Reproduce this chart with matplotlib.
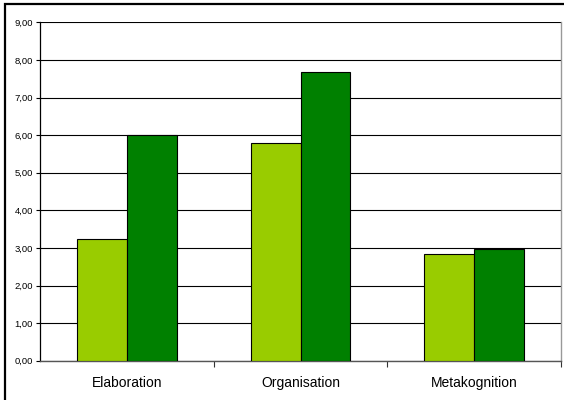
import numpy as np
import matplotlib.pyplot as plt
from matplotlib.patches import Rectangle

# --- data ---
categories = ["Elaboration", "Organisation", "Metakognition"]
series_a = [3.25, 5.80, 2.85]   # light green
series_b = [6.00, 7.68, 2.96]   # dark green
y_ticks = [0, 1, 2, 3, 4, 5, 6, 7, 8, 9]

plt.rcParams['font.family'] = ['Liberation Sans', 'DejaVu Sans']

fig = plt.figure(figsize=(5.64, 4.00), dpi=100)
ax = fig.add_axes([40 / 564, 1 - 360.7 / 400, 521 / 564, 338.4 / 400])

x = np.arange(len(categories))
w = 0.286
ax.bar(x - w / 2, series_a, w, color="#99CC00", edgecolor="black", linewidth=0.8, zorder=3)
ax.bar(x + w / 2, series_b, w, color="#008000", edgecolor="black", linewidth=0.8, zorder=3)

ax.set_xlim(-0.5, 2.5)
ax.set_ylim(0, 9)

ax.set_yticks(y_ticks)
ax.set_yticklabels([f"{v:.2f}".replace(".", ",") for v in y_ticks], fontsize=6.8)
ax.yaxis.grid(True, color="black", linewidth=0.8, zorder=0)

# category labels centered, ticks at boundaries
ax.set_xticks(x)
ax.set_xticklabels(categories, fontsize=10)
ax.tick_params(axis="x", length=0, pad=11)
ax.set_xticks([0.5, 1.5, 2.5], minor=True)
ax.tick_params(axis="x", which="minor", length=4, width=0.8, color="#333333", direction="out")
ax.tick_params(axis="y", length=3, width=0.8, pad=2, direction="out")

for side in ["top"]:
    ax.spines[side].set_visible(False)
ax.spines["left"].set_linewidth(0.9)
ax.spines["bottom"].set_color("#555555")
ax.spines["bottom"].set_linewidth(1.0)
ax.spines["right"].set_color("#999999")
ax.spines["right"].set_linewidth(1.0)

# outer chart frame (cut off on right/bottom like the reference)
fig.patches.append(Rectangle((4.5 / 564, -0.05), 1.2, 1 - 3.5 / 400 + 0.05,
                             transform=fig.transFigure, fill=False,
                             edgecolor="black", linewidth=1.6))

fig.savefig("out.png", dpi=100)
